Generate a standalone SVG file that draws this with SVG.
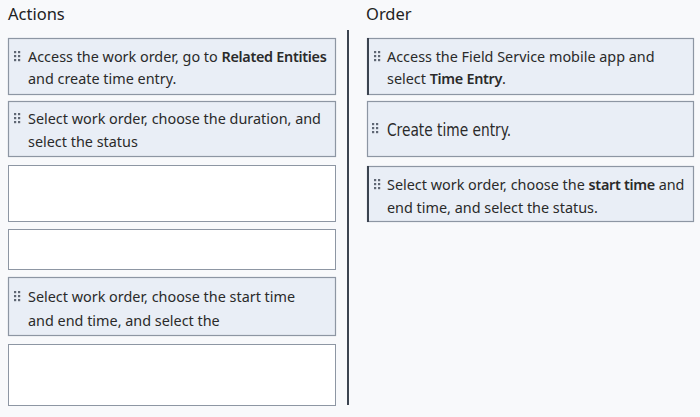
<svg xmlns="http://www.w3.org/2000/svg" width="700" height="417" viewBox="0 0 700 417">
<defs>
<style>
.bg{fill:#f8f9fb}
.h{font-family:"Noto Sans","Open Sans",sans-serif;font-size:16.5px;fill:#222}
.t{font-family:"Noto Sans","Open Sans",sans-serif;font-size:14.4px;fill:#2a2a2a}
.b{font-weight:600;letter-spacing:-0.3px}
.item{fill:#e9eef6;stroke:#8d96a3;stroke-width:1.2}
.slot{fill:#ffffff;stroke:#8d96a3;stroke-width:1}
.edge{fill:none;stroke:#3c4450;stroke-width:2}
.dot{fill:#5f6774}
</style>
<g id="grip">
<rect class="dot" x="0" y="0" width="2.2" height="2.2"/><rect class="dot" x="4" y="0" width="2.2" height="2.2"/>
<rect class="dot" x="0" y="4" width="2.2" height="2.2"/><rect class="dot" x="4" y="4" width="2.2" height="2.2"/>
<rect class="dot" x="0" y="8" width="2.2" height="2.2"/><rect class="dot" x="4" y="8" width="2.2" height="2.2"/>
</g>
</defs>
<rect class="bg" x="0" y="0" width="700" height="417"/>
<text class="h" x="8" y="20">Actions</text>
<text class="h" x="366" y="20">Order</text>

<g id="connectors">
<line class="edge" x1="348" y1="30" x2="348" y2="405"/>
</g>

<g id="action1">
<rect class="item" x="8.5" y="38.5" width="327" height="56"/>
<use href="#grip" x="14" y="51"/>
<text class="t" x="28" y="62">Access the work order, go to <tspan class="b">Related Entities</tspan></text>
<text class="t" x="28" y="84">and create time entry.</text>
</g>
<g id="action2">
<rect class="item" x="8.5" y="101.5" width="327" height="55"/>
<use href="#grip" x="14" y="113"/>
<text class="t" x="28" y="124">Select work order, choose the duration, and</text>
<text class="t" x="28" y="147">select the status</text>
</g>
<g id="slot1">
<rect class="slot" x="8.5" y="165.5" width="327" height="56"/>
</g>
<g id="slot2">
<rect class="slot" x="8.5" y="229.5" width="327" height="40"/>
</g>
<g id="action3">
<rect class="item" x="8.5" y="277.5" width="327" height="58"/>
<use href="#grip" x="14" y="291"/>
<text class="t" x="28" y="302">Select work order, choose the start time</text>
<text class="t" x="28" y="326">and end time, and select the</text>
</g>
<g id="slot3">
<rect class="slot" x="8.5" y="344.5" width="327" height="61"/>
</g>

<g id="order1">
<rect class="item" x="367.5" y="38.5" width="326" height="56"/>
<line x1="368" y1="38" x2="368" y2="95" stroke="#3c4450" stroke-width="2"/>
<use href="#grip" x="374" y="51"/>
<text class="t" x="387" y="62">Access the Field Service mobile app and</text>
<text class="t" x="387" y="84">select <tspan class="b">Time Entry</tspan>.</text>
</g>
<g id="order2">
<rect class="item" x="367.5" y="101.5" width="326" height="55"/>
<use href="#grip" x="372" y="123"/>
<text font-family="'DejaVu Sans Condensed','Noto Sans',sans-serif" font-size="18" fill="#2a2a2a" x="387" y="136" textLength="124" lengthAdjust="spacingAndGlyphs">Create time entry.</text>
</g>
<g id="order3">
<rect class="item" x="367.5" y="166.5" width="326" height="55"/>
<line x1="368" y1="166" x2="368" y2="222" stroke="#3c4450" stroke-width="2"/>
<use href="#grip" x="374" y="179"/>
<text class="t" x="387" y="190">Select work order, choose the <tspan class="b">start time</tspan> and</text>
<text class="t" x="387" y="213">end time, and select the status.</text>
</g>
</svg>
